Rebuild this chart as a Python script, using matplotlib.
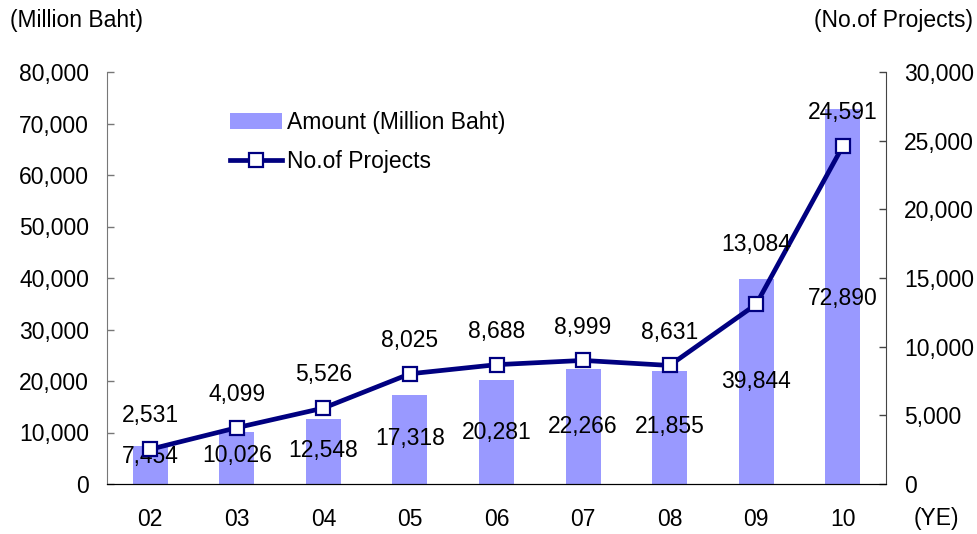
import matplotlib
matplotlib.use('Agg')
import matplotlib.pyplot as plt
import numpy as np

plt.rcParams['font.family'] = ['Liberation Sans', 'DejaVu Sans']

years = ['02', '03', '04', '05', '06', '07', '08', '09', '10']
amount = [7454, 10026, 12548, 17318, 20281, 22266, 21855, 39844, 72890]
projects = [2531, 4099, 5526, 8025, 8688, 8999, 8631, 13084, 24591]

# where the amount labels sit (left axis units) and how far the project labels sit above the points (pt)
amount_label_y = [5243, 5437, 6408, 8738, 9903, 11262, 11262, 19806, 36000]
project_label_dy = [24, 24, 24, 24, 24, 24, 24, 43, 24]

BAR = '#9999FF'
NAVY = '#000080'
FS = 16.5

fig = plt.figure(figsize=(9.77, 5.34), dpi=100)
ax1 = fig.add_axes([107/977, 1-484/534, (886-107)/977, (484-72)/534])
ax2 = ax1.twinx()

x = np.arange(len(years))
ax1.bar(x, amount, width=0.405, color=BAR, label='Amount (Million Baht)', zorder=2)
ax1.set_xlim(-0.5, 8.5)
ax1.set_ylim(0, 80000)
ax1.set_yticks(np.arange(0, 80001, 10000))
ax1.set_yticklabels(['{:,}'.format(v) for v in range(0, 80001, 10000)])
ax1.set_xticks(x)
ax1.set_xticklabels(years)

ln, = ax2.plot(x, projects, color=NAVY, lw=3.4, marker='s', markersize=9.5,
               markerfacecolor='white', markeredgecolor=NAVY, markeredgewidth=1.6,
               label='No.of Projects', zorder=3)
ax2.set_ylim(0, 30000)
ax2.set_yticks(np.arange(0, 30001, 5000))
ax2.set_yticklabels(['{:,}'.format(v) for v in range(0, 30001, 5000)])

for a in (ax1, ax2):
    a.spines['top'].set_visible(False)
    a.tick_params(axis='y', direction='in', length=5, width=1, pad=13, labelsize=FS)
    a.tick_params(axis='x', length=0, pad=17, labelsize=FS)
ax1.spines['left'].set_color('#777777')
ax1.spines['right'].set_visible(False)
ax2.spines['left'].set_visible(False)
ax2.spines['right'].set_color('#444444')
ax1.tick_params(axis='y', color='#777777')
ax2.tick_params(axis='y', color='#444444')
ax1.set_zorder(0)
ax2.set_zorder(1)
ax2.patch.set_visible(False)

for i in range(len(years)):
    ax1.text(x[i], amount_label_y[i], '{:,}'.format(amount[i]), ha='center', va='center',
             fontsize=FS, zorder=5)
    ax2.annotate('{:,}'.format(projects[i]), (x[i], projects[i]), xytext=(0, project_label_dy[i]),
                 textcoords='offset points', ha='center', va='center', fontsize=FS)

fig.text(10/977, 1-20/534, '(Million Baht)', ha='left', va='center', fontsize=FS)
fig.text(973/977, 1-20/534, '(No.of Projects)', ha='right', va='center', fontsize=FS)
fig.text(936/977, 1-519/534, '(YE)', ha='center', va='center', fontsize=FS)

bars_handle = ax1.containers[0]
fig.legend([bars_handle, ln], ['Amount (Million Baht)', 'No.of Projects'], loc='upper left',
           bbox_to_anchor=(230/977, 1-111/534), frameon=False, fontsize=FS,
           handlelength=2.25, handletextpad=0.25, labelspacing=0.68, borderpad=0, borderaxespad=0)

fig.savefig('out.png', dpi=100)
